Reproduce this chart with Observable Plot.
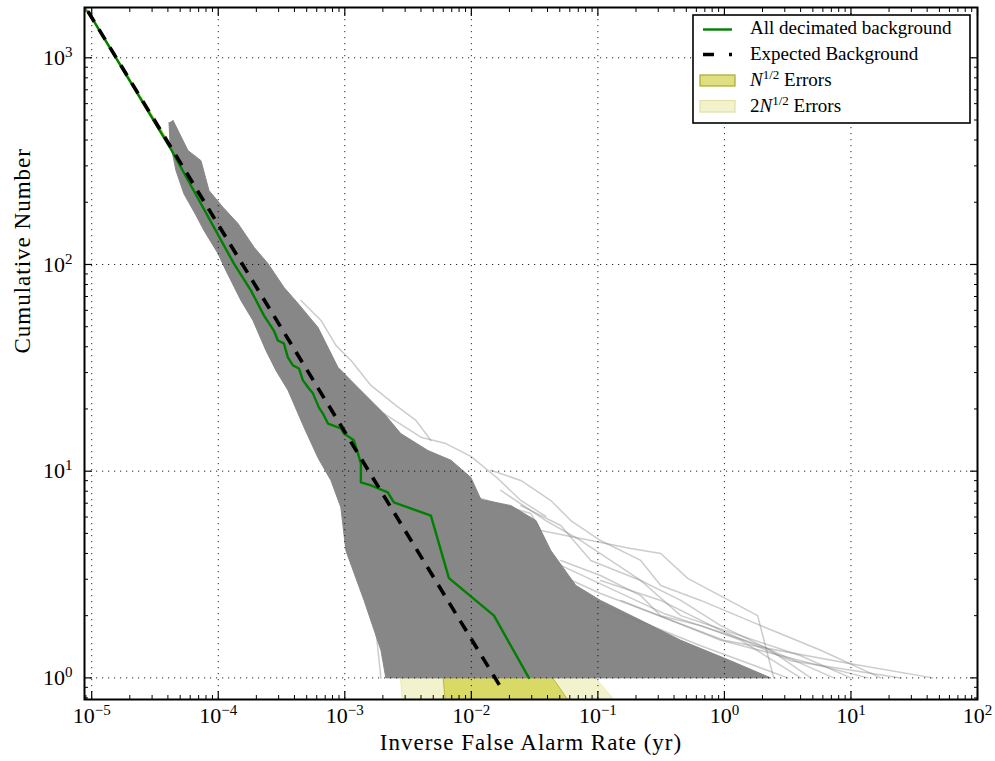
<!DOCTYPE html>
<html><head><meta charset="utf-8">
<script src="https://cdn.jsdelivr.net/npm/d3@7"></script>
<script src="https://cdn.jsdelivr.net/npm/@observablehq/plot@0.6"></script>
<style>
body{margin:0;background:#fff;}
#wrap{position:relative;width:995px;height:761px;font-family:"Liberation Serif","DejaVu Serif",serif;}
#wrap svg, #wrap svg text, #wrap svg g{font-family:"Liberation Serif","DejaVu Serif",serif !important;}
#legend{position:absolute;left:692px;top:14px;}
</style></head><body><div id="wrap"></div>
<script>
// ---- tick values ----
const majorX = [1e-5, 1e-4, 1e-3, 1e-2, 1e-1, 1e0, 1e1, 1e2];
const majorY = [1e0, 1e1, 1e2, 1e3];
const xTitle = "Inverse False Alarm Rate (yr)";
const yTitle = "Cumulative Number";
const legendLabels = ["All decimated background", "Expected Background", "N^{1/2} Errors", "2N^{1/2} Errors"];

// ---- expected background (dashed) ----
const expectedX = [9.35e-6, 0.0171];
const expectedY = [1675, 0.9];

// ---- all decimated background (green) ----
const greenX = [9.35e-6, 4.155e-5, 1.33e-4, 1.81e-4, 2.30e-4, 2.75e-4, 2.96e-4, 3.30e-4, 3.55e-4, 3.89e-4, 4.34e-4, 4.67e-4, 5.21e-4, 5.60e-4, 6.25e-4, 6.72e-4, 7.36e-4, 9.32e-4, 9.84e-4, 1.18e-3, 1.27e-3, 1.34e-3, 1.34e-3, 1.61e-3, 2.19e-3, 2.44e-3, 4.79e-3, 6.65e-3, 1.51e-2, 2.85e-2];
const greenY = [1675, 368, 101, 74.9, 56.6, 47.9, 42.9, 41.5, 35.5, 32.5, 31.4, 27.5, 25.1, 23.8, 20.3, 19.0, 17.0, 16.1, 15.2, 14.1, 12.2, 10.9, 8.82, 8.53, 7.89, 7.06, 6.10, 3.04, 2.00, 1.0];

// ---- dense gray envelope of decimated realisations (outline) ----
const coreX = [4.08e-5, 4.15e-5, 4.63e-5, 5.35e-5, 6.67e-5, 7.71e-5, 9.95e-5, 1.15e-4, 1.51e-4, 1.88e-4, 2.38e-4, 2.86e-4, 3.56e-4, 4.76e-4, 6.14e-4, 7.77e-4, 9.31e-4, 1.02e-3, 1.42e-3, 1.93e-3, 2.11e-3,
  2.32, 1.12, 0.452, 0.218, 0.105, 0.067, 0.0425, 0.0324, 0.0205, 0.0119, 9.91e-3, 6.89e-3, 4.53e-3, 2.77e-3, 2.04e-3, 1.27e-3, 8.83e-4, 6.14e-4, 4.27e-4, 3.31e-4, 2.47e-4, 1.92e-4, 1.43e-4, 1.09e-4, 8.45e-5, 7.30e-5, 5.76e-5, 4.39e-5];
const coreY = [486, 398, 285, 220, 173, 146, 113, 93.5, 67, 53.6, 38.4, 30.7, 24.6, 16.3, 11.6, 9.02, 6.67, 4.13, 2.37, 1.36, 1,
  1, 1.21, 1.52, 1.90, 2.37, 2.80, 4.13, 5.77, 6.82, 7.3, 9.33, 11.3, 12.6, 15.2, 19.0, 25.4, 31.8, 49.6, 64.8, 77.4, 101, 121, 158, 189, 228, 318, 356, 498];

// ---- individual faint realisations at the edges ----
const fringe1X = [2.04e-3, 3.99e-3, 6.29e-3, 9.91e-3, 0.0162, 0.0246, 0.0388];
const fringe1Y = [19.0, 14.6, 13.6, 11.8, 9.22, 7.22, 6.04];
const fringe2X = [0.0171, 0.0388, 0.0733, 0.126, 0.218, 0.452, 0.935, 2.32, 4.81];
const fringe2Y = [8.07, 5.77, 4.62, 3.70, 2.96, 2.37, 1.79, 1.36, 1];
const fringe3X = [0.0509, 0.105, 0.218, 0.314, 0.650, 1.35, 4.01];
const fringe3Y = [3.70, 3.13, 2.50, 2.00, 1.79, 1.52, 1];
const fringe4X = [6.14e-4, 8.51e-4, 1.02e-3, 1.34e-3, 1.76e-3, 1.93e-3];
const fringe4Y = [13.0, 9.02, 5.77, 3.31, 1.70, 1];
const fringe5X = [4.51e-4, 6.49e-4, 8.51e-4, 1.12e-3, 1.61e-3, 2.53e-3, 3.65e-3, 4.79e-3];
const fringe5Y = [67.0, 53.6, 40.6, 34.3, 26.0, 20.8, 17.6, 14.1];
const fringe6X = [0.01426, 0.0246, 0.0425, 0.0611, 0.105, 0.218, 0.314, 0.650, 1.94, 5.77, 17.2];
const fringe6Y = [10.1, 9.02, 7.21, 5.77, 4.62, 3.70, 2.80, 2.37, 1.79, 1.36, 1];
const fringe7X = [0.0246, 0.0509, 0.0879, 0.218, 0.452, 1.35, 4.01, 9.95];
const fringe7Y = [6.82, 5.46, 3.70, 2.96, 2.00, 1.60, 1.28, 1];
const fringe8X = [0.105, 0.314, 0.935, 3.34, 24.7];
const fringe8Y = [2.96, 2.37, 1.70, 1.21, 1];
const outlier1X = [9.91e-3, 0.0295, 0.0354, 0.182, 0.314, 0.513, 1.83, 2.45];
const outlier1Y = [7.63, 6.24, 5.17, 4.23, 4.00, 3.03, 2.00, 1];
const outlier2X = [0.0509, 0.105, 0.989, 9.95, 44.3];
const outlier2Y = [3.13, 2.56, 1.52, 1.17, 1];
const outlier3X = [0.0509, 0.332, 1.94, 7.30];
const outlier3Y = [3.50, 2.05, 1.43, 1];
const outlier4X = [0.152, 0.935, 4.01, 13.6];
const outlier4Y = [2.37, 1.52, 1.21, 1];
const outlier5X = [0.105, 0.650, 3.16];
const outlier5Y = [2.24, 1.43, 1];

// ---- error bands around the expected background ----
const band1X  = [9.3e-6, 4.2e-5, 1e-3, 3e-3, 6.03e-3, 6.67e-3, 0.0171, 0.0441, 0.0578];
const band1Lo = [1662, 364, 11.7, 2.9, 1.0, 0.5, 0.5, 0.5, 0.5];
const band1Hi = [1692, 378, 19.6, 7.5, 4.2, 3.87, 1.85, 1.0, 0.786];
const band2X  = [9.3e-6, 4.2e-5, 1e-3, 2.77e-3, 2.87e-3, 6e-3, 0.0171, 0.0958, 0.134];
const band2Lo = [1650, 357, 7.7, 1.0, 0.786, 0.5, 0.5, 0.5, 0.5];
const band2Hi = [1705, 385, 23.5, 10.3, 10.0, 5.8, 2.8, 1.0, 0.786];

// ---- helpers ----
const pts = (xs, ys) => xs.map((x, i) => ({x, y: ys[i]}));
const band = (xs, lo, hi) => xs.map((x, i) => ({x, lo: lo[i], hi: hi[i]}));
const minorX = []; for (let e = -6; e <= 1; e++) for (let k = 2; k <= 9; k++) { const v = k * Math.pow(10, e); if (v >= 8.8e-6 && v <= 100) minorX.push(v); }
const minorY = []; for (let e = -1; e <= 3; e++) for (let k = 2; k <= 9; k++) { const v = k * Math.pow(10, e); if (v >= 0.79 && v <= 1750) minorY.push(v); }
const fmt = d => "10^" + Math.round(Math.log10(d));
const blank = () => "";

const faint = {x: "x", y: "y", stroke: "#808080", strokeOpacity: 0.4, strokeWidth: 1.5};
const fringes = [[fringe1X, fringe1Y], [fringe2X, fringe2Y], [fringe3X, fringe3Y], [fringe4X, fringe4Y], [fringe5X, fringe5Y], [fringe6X, fringe6Y], [fringe7X, fringe7Y], [fringe8X, fringe8Y]];
const outliers = [[outlier1X, outlier1Y], [outlier2X, outlier2Y], [outlier3X, outlier3Y], [outlier4X, outlier4Y], [outlier5X, outlier5Y]];

const chart = Plot.plot({
  width: 995, height: 761,
  marginLeft: 84, marginRight: 18, marginTop: 7, marginBottom: 62,
  style: {fontFamily: "Liberation Serif, serif", background: "#fff", color: "#000"},
  x: {type: "log", domain: [8.77e-6, 100]},
  y: {type: "log", domain: [0.786, 1751]},
  marks: [
    Plot.areaY(band(band2X, band2Lo, band2Hi), {x: "x", y1: "lo", y2: "hi", fill: "#bfbf00", fillOpacity: 0.2, stroke: "#bfbf00", strokeOpacity: 0.2, clip: true}),
    Plot.areaY(band(band1X, band1Lo, band1Hi), {x: "x", y1: "lo", y2: "hi", fill: "#bfbf00", fillOpacity: 0.5, stroke: "#8f8f00", strokeOpacity: 0.5, clip: true}),
    ...fringes.map(([xs, ys]) => Plot.line(pts(xs, ys), faint)),
    Plot.line(pts(coreX, coreY), {x: "x", y: "y", fill: "#878787", stroke: "#878787", strokeWidth: 1}),
    ...outliers.map(([xs, ys]) => Plot.line(pts(xs, ys), faint)),
    Plot.ruleX(majorX, {stroke: "#000", strokeWidth: 1, strokeDasharray: "1.2,4.8", strokeOpacity: 0.85}),
    Plot.ruleY(majorY, {stroke: "#000", strokeWidth: 1, strokeDasharray: "1.2,4.8", strokeOpacity: 0.85}),
    Plot.line(pts(greenX, greenY), {x: "x", y: "y", stroke: "#008000", strokeWidth: 2.4}),
    Plot.line(pts(expectedX, expectedY), {x: "x", y: "y", stroke: "#000", strokeWidth: 3.6, strokeDasharray: "12,9", strokeLinecap: "butt"}),
    Plot.axisX(majorX, {anchor: "bottom", tickSize: -8, tickFormat: blank, label: null, strokeWidth: 1.2}),
    Plot.axisX(minorX, {anchor: "bottom", tickSize: -4, tickFormat: blank, label: null}),
    Plot.axisX(majorX, {anchor: "top", tickSize: -8, tickFormat: blank, label: null, strokeWidth: 1.2}),
    Plot.axisX(minorX, {anchor: "top", tickSize: -4, tickFormat: blank, label: null}),
    Plot.axisY(majorY, {anchor: "left", tickSize: -8, tickFormat: blank, label: null, strokeWidth: 1.2}),
    Plot.axisY(minorY, {anchor: "left", tickSize: -4, tickFormat: blank, label: null}),
    Plot.axisY(majorY, {anchor: "right", tickSize: -8, tickFormat: blank, label: null, strokeWidth: 1.2}),
    Plot.axisY(minorY, {anchor: "right", tickSize: -4, tickFormat: blank, label: null}),
    Plot.axisX(majorX, {anchor: "bottom", tickSize: 0, tickPadding: 8, tickFormat: fmt, label: null, fontSize: 22}),
    Plot.axisY(majorY, {anchor: "left", tickSize: 0, tickPadding: 12, tickFormat: fmt, label: null, fontSize: 22}),
    Plot.text([xTitle], {frameAnchor: "bottom", dy: 50, fontSize: 23, fill: "#000"}),
    Plot.text([yTitle], {frameAnchor: "left", dx: -62, rotate: -90, fontSize: 23, fill: "#000"}),
    Plot.frame({stroke: "#000", strokeWidth: 2})
  ]
});

chart.setAttribute("font-family", "Liberation Serif, serif");
// superscript exponents in tick labels
chart.querySelectorAll("text").forEach(t => {
  const m = /^10\^(-?\d+)$/.exec(t.textContent);
  if (!m) return;
  t.textContent = "10";
  const s = document.createElementNS("http://www.w3.org/2000/svg", "tspan");
  s.setAttribute("dy", "-8");
  s.setAttribute("font-size", "15");
  s.textContent = m[1].replace("-", "\u2212");
  t.appendChild(s);
});
chart.querySelectorAll('text').forEach(t => { if (t.textContent === xTitle || t.textContent === yTitle) t.setAttribute("letter-spacing", "1"); });

const wrap = document.getElementById("wrap");
wrap.appendChild(chart);

// legend (inside the plot area, top right)
const NS = "http://www.w3.org/2000/svg";
const lg = document.createElementNS(NS, "svg");
lg.setAttribute("id", "legend");
lg.setAttribute("width", 280); lg.setAttribute("height", 111);
lg.innerHTML = `
<rect x="1" y="1" width="277" height="108" fill="#fff" stroke="#000" stroke-width="1.6"/>
<line x1="11" x2="40" y1="15.5" y2="15.5" stroke="#008000" stroke-width="2.4"/>
<line x1="11" x2="40" y1="40.5" y2="40.5" stroke="#000" stroke-width="3.6" stroke-dasharray="11,15"/>
<rect x="8" y="61" width="35" height="11" fill="#dfdf80" stroke="#a8a830" stroke-width="1.2"/>
<rect x="8" y="86.5" width="35" height="11.5" fill="#f2f2cc" stroke="#e0e0a8" stroke-width="1.2"/>
<g font-family="Liberation Serif, serif" font-size="19" fill="#000">
<text x="58" y="20">${legendLabels[0]}</text>
<text x="58" y="46">${legendLabels[1]}</text>
<text x="58" y="71.5"><tspan font-style="italic">N</tspan><tspan dy="-7" font-size="13">1/2</tspan><tspan dy="7"> Errors</tspan></text>
<text x="58" y="97.5">2<tspan font-style="italic">N</tspan><tspan dy="-7" font-size="13">1/2</tspan><tspan dy="7"> Errors</tspan></text>
</g>`;
wrap.appendChild(lg);
</script></body></html>
